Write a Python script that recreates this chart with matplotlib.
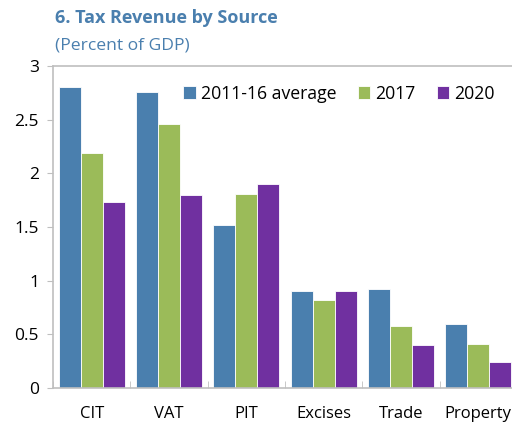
import numpy as np
import matplotlib
matplotlib.use("Agg")
import matplotlib.pyplot as plt

plt.rcParams['font.family'] = ['Open Sans', 'DejaVu Sans']

categories = ["CIT", "VAT", "PIT", "Excises", "Trade", "Property"]
series_names = ["2011-16 average", "2017", "2020"]
avg_2011_16 = [2.80, 2.76, 1.52, 0.90, 0.92, 0.60]
y2017 = [2.19, 2.46, 1.81, 0.82, 0.58, 0.41]
y2020 = [1.73, 1.80, 1.90, 0.90, 0.40, 0.24]
colors = ["#4A7FAE", "#9BBB59", "#7030A0"]

fig = plt.figure(figsize=(5.12, 4.26), dpi=100)
ax = fig.add_axes([53 / 512, 1 - 388 / 426, 464 / 512, 322 / 426])

x = np.arange(len(categories))
w = 0.284
for i, (vals, name) in enumerate(zip([avg_2011_16, y2017, y2020], series_names)):
    ax.bar(x + (i - 1) * w, vals, width=w, color=colors[i], label=name,
           edgecolor="white", linewidth=0.6)

ax.set_xlim(-0.5, len(categories) - 0.5)
ax.set_ylim(0, 3)
ax.set_yticks([0, 0.5, 1, 1.5, 2, 2.5, 3])
ax.set_yticklabels(["0", "0.5", "1", "1.5", "2", "2.5", "3"])
ax.set_xticks(x)
ax.set_xticklabels(categories)
ax.set_xticks(np.arange(len(categories)) - 0.5, minor=True)

for s in ["left", "bottom", "top", "right"]:
    ax.spines[s].set_color("#BFBFBF")
    ax.spines[s].set_linewidth(1.2)

ax.tick_params(axis="y", direction="out", length=4, color="#BFBFBF",
               labelsize=12.5, pad=6)
ax.tick_params(axis="x", which="major", length=0, labelsize=12, pad=13)
ax.tick_params(axis="x", which="minor", direction="in", length=5, color="#BFBFBF")

ax.legend(loc="upper right", bbox_to_anchor=(0.975, 0.975), ncol=3, frameon=False,
          fontsize=12.7, handlelength=0.7, handleheight=0.7, handletextpad=0.3,
          columnspacing=1.2, borderaxespad=0.2)

fig.text(55 / 512, 1 - 18 / 426, "6. Tax Revenue by Source", color="#4A7FAE",
         fontsize=13, fontweight="bold", va="center", ha="left")
fig.text(55 / 512, 1 - 45 / 426, "(Percent of GDP)", color="#4A7FAE",
         fontsize=12.6, va="center", ha="left")

fig.savefig("out.png", dpi=100)
